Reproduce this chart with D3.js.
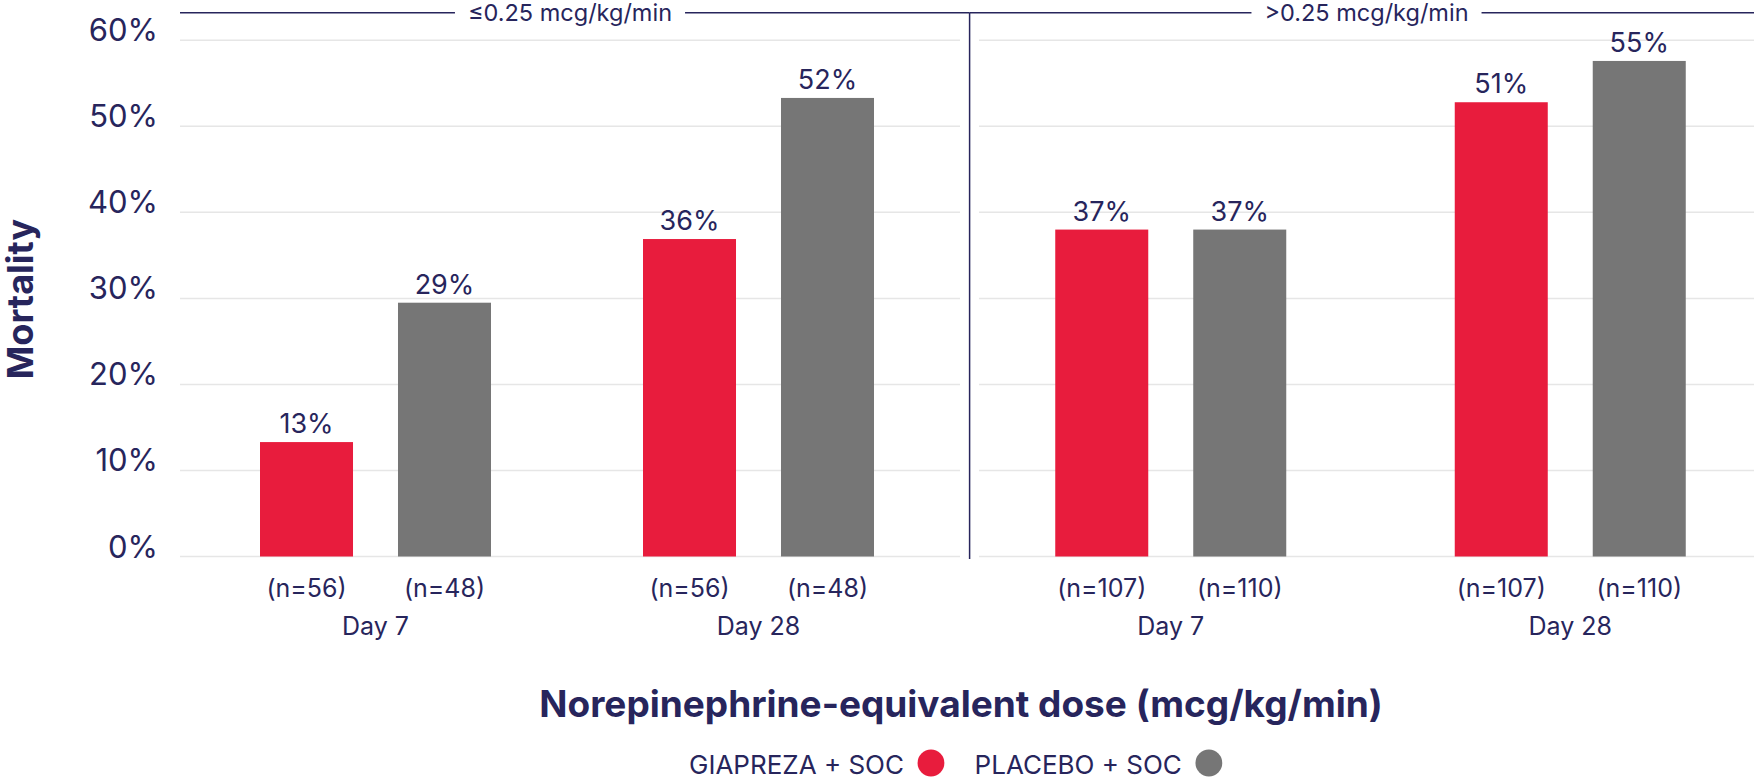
<!DOCTYPE html>
<html>
<head>
<meta charset="utf-8">
<script src="https://cdn.jsdelivr.net/npm/d3@7"></script>
<style>
  body { margin: 0; background: #fff; }
  text { font-family: Inter, "Noto Sans", sans-serif; }
</style>
</head>
<body>
<svg width="1756" height="778"></svg>
<script>
// data
const sections = ["≤0.25 mcg/kg/min", ">0.25 mcg/kg/min"];
const days = ["Day 7", "Day 28"];
const series = ["GIAPREZA + SOC", "PLACEBO + SOC"];
// bar heights as drawn (%), per section, per day: [giapreza, placebo]
const lowDose = [[13.3, 29.5], [36.9, 53.3]];
const highDose = [[38.0, 38.0], [52.8, 57.6]];
// printed labels above the bars
const lowLabels = [["13%", "29%"], ["36%", "52%"]];
const highLabels = [["37%", "37%"], ["51%", "55%"]];
// patients per arm
const lowN = [56, 48];
const highN = [107, 110];
const yTicks = [0, 10, 20, 30, 40, 50, 60];

const navy = "#27255c";
const colors = ["#e81c3d", "#767676"];

const svg = d3.select("svg");

const y = d3.scaleLinear().domain([0, 60]).range([556.5, 40.3]);

// plot areas for both dose sections
const panels = [
  { name: sections[0], x0: 180, x1: 960, groups: [184, 950], values: lowDose, labels: lowLabels, n: lowN },
  { name: sections[1], x0: 979, x1: 1754, groups: [971, 1770], values: highDose, labels: highLabels, n: highN }
];
const dividerX = 969.6;

const inner = d3.scaleBand().domain(series).range([-115.5, 115.5]).paddingInner(0.326);

// y tick labels
svg.append("g")
  .selectAll("text")
  .data(yTicks)
  .join("text")
  .attr("x", 158)
  .attr("y", d => y(d) + 1)
  .attr("text-anchor", "end")
  .attr("font-size", "31px")
  .attr("fill", navy)
  .text(d => d + "%");

panels.forEach((p, k) => {
  const x = d3.scalePoint().domain(days).range(p.groups).padding(0.5);
  const g = svg.append("g");

  // gridlines
  g.selectAll("line.grid")
    .data(yTicks)
    .join("line")
    .attr("class", "grid")
    .attr("x1", p.x0)
    .attr("x2", p.x1)
    .attr("y1", d => y(d))
    .attr("y2", d => y(d))
    .attr("stroke", "#e6e6e6")
    .attr("stroke-width", 1.5);

  days.forEach((day, i) => {
    const cx = x(day);
    const rows = series.map((s, j) => ({ s, j, v: p.values[i][j], label: p.labels[i][j], n: p.n[j] }));

    g.selectAll(null)
      .data(rows)
      .join("rect")
      .attr("x", d => cx + inner(d.s))
      .attr("width", inner.bandwidth())
      .attr("y", d => y(d.v))
      .attr("height", d => y(0) - y(d.v))
      .attr("fill", d => colors[d.j]);

    g.selectAll(null)
      .data(rows)
      .join("text")
      .attr("x", d => cx + inner(d.s) + inner.bandwidth() / 2)
      .attr("y", d => y(d.v) - 9)
      .attr("text-anchor", "middle")
      .attr("font-size", "27px")
      .attr("fill", navy)
      .text(d => d.label);

    g.selectAll(null)
      .data(rows)
      .join("text")
      .attr("x", d => cx + inner(d.s) + inner.bandwidth() / 2)
      .attr("y", 597)
      .attr("text-anchor", "middle")
      .attr("font-size", "25px")
      .attr("fill", navy)
      .text(d => "(n=" + d.n + ")");

    g.append("text")
      .attr("x", cx)
      .attr("y", 635)
      .attr("text-anchor", "middle")
      .attr("font-size", "25px")
      .attr("fill", navy)
      .text(day);
  });

  // section header with bracket line
  const mid = (p.x0 + p.x1) / 2;
  const head = g.append("text")
    .attr("x", mid)
    .attr("y", 21)
    .attr("text-anchor", "middle")
    .attr("font-size", "23.5px")
    .attr("fill", navy)
    .text(p.name);
  const half = head.node().getComputedTextLength() / 2 + 13;
  const lx0 = k === 0 ? p.x0 : dividerX;
  const lx1 = k === 0 ? dividerX : p.x1;
  [[lx0, mid - half], [mid + half, lx1]].forEach(([a, b]) => {
    g.append("line")
      .attr("x1", a).attr("x2", b)
      .attr("y1", 12.7).attr("y2", 12.7)
      .attr("stroke", navy)
      .attr("stroke-width", 1.5);
  });
});

// divider between dose sections
svg.append("line")
  .attr("x1", dividerX).attr("x2", dividerX)
  .attr("y1", 12.7).attr("y2", 559)
  .attr("stroke", navy)
  .attr("stroke-width", 1.5);

// axis titles
svg.append("text")
  .attr("transform", "translate(33,299) rotate(-90)")
  .attr("text-anchor", "middle")
  .attr("font-size", "36px")
  .attr("font-weight", 700)
  .attr("fill", navy)
  .text("Mortality");

svg.append("text")
  .attr("x", 961)
  .attr("y", 716.7)
  .attr("text-anchor", "middle")
  .attr("font-size", "37px")
  .attr("font-weight", 700)
  .attr("fill", navy)
  .text("Norepinephrine-equivalent dose (mcg/kg/min)");

// legend
const legendX = [689, 974.6];
const legend = svg.append("g");
series.forEach((s, i) => {
  const t = legend.append("text")
    .attr("x", legendX[i])
    .attr("y", 774)
    .attr("font-size", "26px")
    .attr("fill", navy)
    .text(s);
  const w = t.node().getComputedTextLength();
  legend.append("circle")
    .attr("cx", legendX[i] + w + 27)
    .attr("cy", 763)
    .attr("r", 13.4)
    .attr("fill", colors[i]);
});
</script>
</body>
</html>
